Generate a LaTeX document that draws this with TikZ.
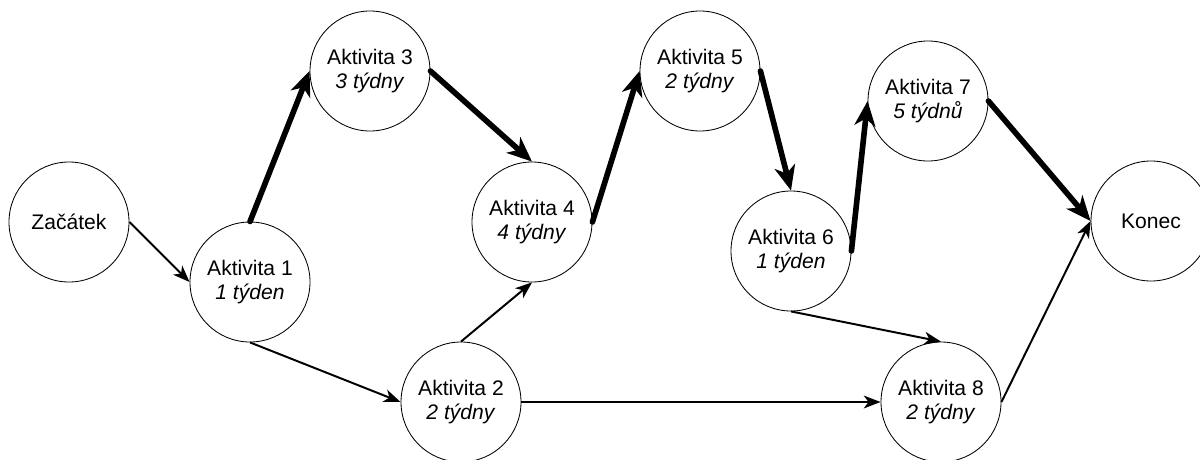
\documentclass[tikz,border=0pt]{standalone}
\usepackage{fontspec}
\setmainfont{Liberation Sans}
\usetikzlibrary{arrows.meta}

\begin{document}
\begin{tikzpicture}[
        activity/.style={circle, draw, line width=0.6pt, minimum size=3cm, inner sep=0pt,
            align=center, font=\fontsize{15}{16.5}\selectfont},
        normal/.style={-{Stealth[length=4.2mm,width=3.2mm,inset=1.2mm]}, line width=1.4pt},
        critical/.style={-{Stealth[length=6.2mm,width=5.2mm,inset=1.8mm]}, line width=4pt, line cap=round}
    ]
        % Fix the page to the reference size
        \useasboundingbox (0,0) rectangle (30,11.475);

        % Draw start and end
        \node[activity] (start) at (1.725,5.925) {Začátek};
        \node[activity] (finish) at (28.775,5.95) {Konec};

        % Draw activities
        \node[activity] (act1) at (6.25,4.425) {Aktivita 1\\\textit{1 týden}};
        \node[activity] (act2) at (11.525,1.425) {Aktivita 2\\\textit{2 týdny}};
        \node[activity] (act3) at (9.25,9.7) {Aktivita 3\\\textit{3 týdny}};
        \node[activity] (act4) at (13.3,5.925) {Aktivita 4\\\textit{4 týdny}};
        \node[activity] (act5) at (17.5,9.7) {Aktivita 5\\\textit{2 týdny}};
        \node[activity] (act6) at (19.775,5.2) {Aktivita 6\\\textit{1 týden}};
        \node[activity] (act7) at (23.2,8.95) {Aktivita 7\\\textit{5 týdnů}};
        \node[activity] (act8) at (23.525,1.425) {Aktivita 8\\\textit{2 týdny}};

        % Draw critical path
        \draw[critical] (act1.north) -- (act3.west);
        \draw[critical] (act3.east) -- (act4.north);
        \draw[critical] (act4.east) -- (act5.west);
        \draw[critical] (act5.east) -- (act6.north);
        \draw[critical] (act6.east) -- (act7.west);
        \draw[critical] (act7.east) -- (finish.west);

        % Draw other dependencies
        \draw[normal] (start.east) -- (act1.west);
        \draw[normal] (act1.south) -- (act2.west);
        \draw[normal] (act2.north) -- (act4.south);
        \draw[normal] (act2.east) -- (act8.west);
        \draw[normal] (act6.south) -- (act8.north);
        \draw[normal] (act8.east) -- (finish.west);
    \end{tikzpicture}
\end{document}
